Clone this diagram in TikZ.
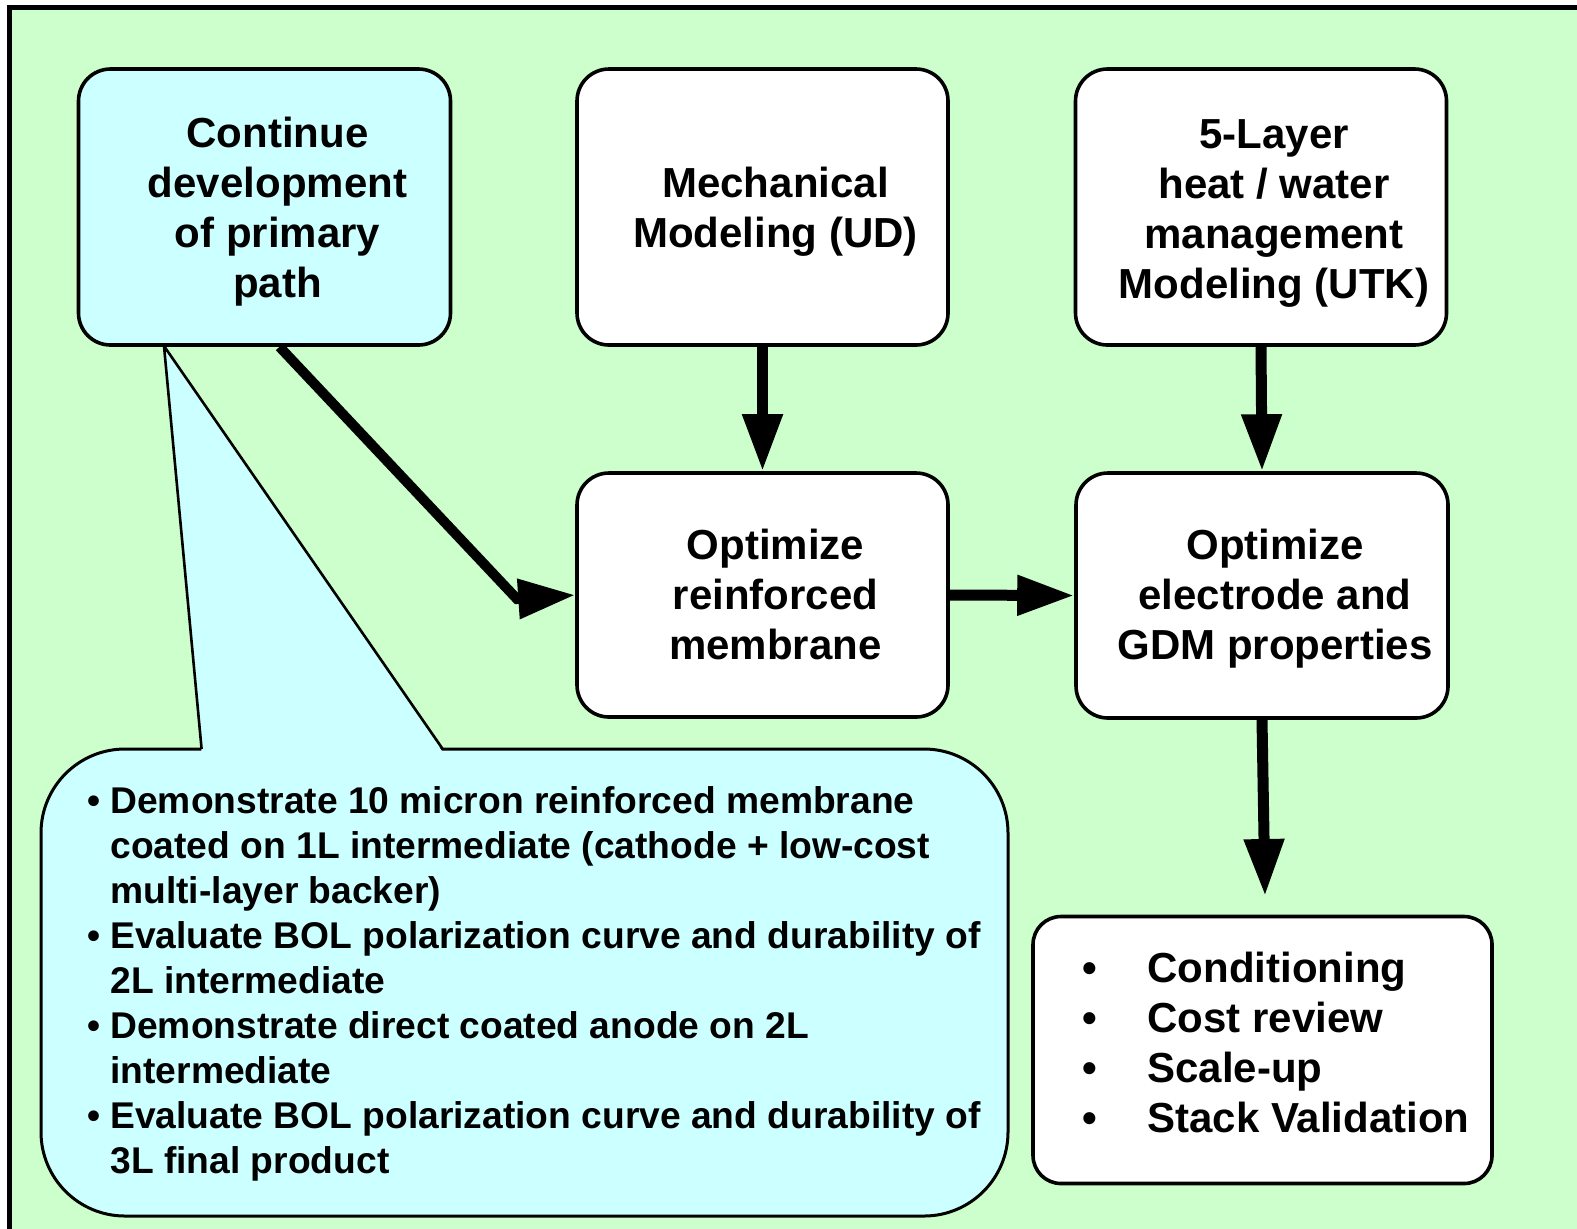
\documentclass[tikz,border=0pt]{standalone}
\usepackage{fontspec}
\setmainfont{Liberation Sans}
\usetikzlibrary{arrows.meta}
\definecolor{panelgreen}{HTML}{CCFFCC}
\definecolor{notecyan}{HTML}{CCFFFF}
\tikzset{
  box/.style={draw, line width=1.8pt, rounded corners=16pt, fill=white, inner sep=0pt},
  boxtext/.style={align=center, font=\fontsize{21}{25}\selectfont\bfseries, inner sep=0pt, anchor=base},
  listtext/.style={align=left, inner sep=0pt, anchor=base west},
  flow/.style={line width=5.5pt, -{Triangle[length=28.5pt,width=19pt]}},
}
\newcommand{\bul}[1]{\makebox[#1][l]{\textbullet}}
\begin{document}
\begin{tikzpicture}[x=0.5pt,y=-0.5pt]
\useasboundingbox (0,0) rectangle (1577,1228);
\clip (0,0) rectangle (1577,1228);
\fill[white] (0,0) rectangle (1577,1228);
% panel
\draw[line width=2.6pt, fill=panelgreen] (9.5,7.5) rectangle (1620,1270);

% callout with its pointer
\draw[line width=1.5pt, fill=notecyan, rounded corners=42pt] (41,749) rectangle (1008,1216);
\fill[notecyan] (201.6,752) -- (164,346) -- (442.7,752) -- cycle;
\draw[line width=1.3pt] (201.6,749) -- (164,346) -- (442.7,749);
% (base anchor of a multi-line node = baseline of its last line)
\node[listtext, font=\fontsize{18.6}{22.5}\selectfont\bfseries] (notes) at (87,1173) {%
\bul{11.5pt}Demonstrate 10 micron reinforced membrane\\
\hspace*{11.5pt}coated on 1L intermediate (cathode + low-cost\\
\hspace*{11.5pt}multi-layer backer)\\
\bul{11.5pt}Evaluate BOL polarization curve and durability of\\
\hspace*{11.5pt}2L intermediate\\
\bul{11.5pt}Demonstrate direct coated anode on 2L\\
\hspace*{11.5pt}intermediate\\
\bul{11.5pt}Evaluate BOL polarization curve and durability of\\
\hspace*{11.5pt}3L final product};

% boxes
\node[box, fill=notecyan, minimum width=186pt, minimum height=138pt] (A) at (264.5,207) {};
\node[box, minimum width=185.5pt, minimum height=138pt] (B) at (762.5,207) {};
\node[box, minimum width=185.5pt, minimum height=138pt] (C) at (1261,207) {};
\node[box, minimum width=185.5pt, minimum height=122pt] (D) at (762.5,595) {};
\node[box, minimum width=186pt, minimum height=122.5pt] (E) at (1262,595.5) {};
\node[box, rounded corners=14pt, minimum width=229.5pt, minimum height=133.5pt] (F) at (1262.5,1050) {};

\node[boxtext] (At) at (277.5,297) {Continue\\development\\of primary\\path};
\node[boxtext] (Bt) at (775.5,247) {Mechanical\\Modeling (UD)};
\node[boxtext] (Ct) at (1274,298) {5-Layer\\heat / water\\management\\Modeling (UTK)};
\node[boxtext] (Dt) at (775.5,659) {Optimize\\reinforced\\membrane};
\node[boxtext] (Et) at (1275,659) {Optimize\\electrode and\\GDM properties};
\node[listtext, font=\fontsize{21}{25}\selectfont\bfseries] (Ft) at (1082,1132) {%
\bul{32.5pt}Conditioning\\
\bul{32.5pt}Cost review\\
\bul{32.5pt}Scale-up\\
\bul{32.5pt}Stack Validation};

% connectors
\coordinate (kneeAD) at (517,599);
\coordinate (endEF) at (1265,896);
\draw[flow, line width=5pt] ([xshift=7.5pt]A.south) -- (kneeAD) -- (D.west);
\draw[flow] (B.south) -- (D.north);
\draw[flow] (C.south) -- (E.north);
\draw[flow] (D.east) -- (E.west);
\draw[flow] (E.south) -- (endEF);
\end{tikzpicture}
\end{document}
